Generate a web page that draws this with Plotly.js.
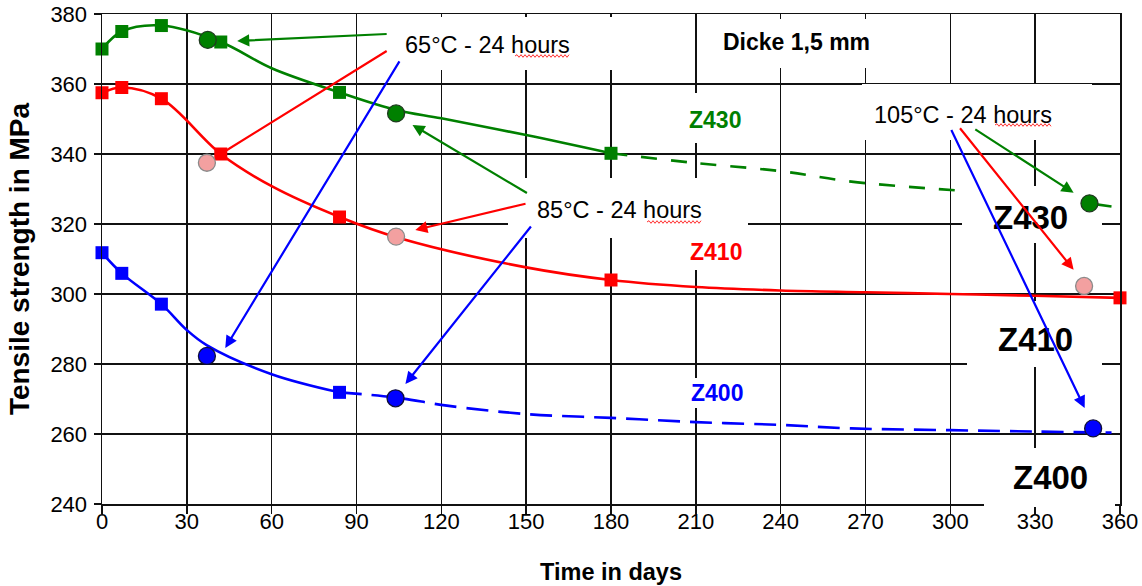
<!DOCTYPE html>
<html>
<head>
<meta charset="utf-8">
<script src="https://cdn.plot.ly/plotly-3.0.1.min.js"></script>
<style>html,body{margin:0;padding:0;background:#fff;}#chart{width:1142px;height:586px;}</style>
</head>
<body>
<div id="chart"></div>
<script>
// ---- data ----
// measured points (squares)
const z430SqDays = [0, 7, 21, 42, 84, 180];
const z430SqVals = [370, 375, 376.7, 372, 357.6, 340.2];
const z410SqDays = [0, 7, 21, 42, 84, 180, 360];
const z410SqVals = [357.5, 359, 355.8, 340, 322, 304, 298.9];
const z400SqDays = [0, 7, 21, 84];
const z400SqVals = [311.8, 305.9, 297.1, 271.9];

// heat-treated points (circles)
const z430CiDays = [37.4, 104, 349.2];
const z430CiVals = [372.6, 351.6, 325.9];
const z410CiDays = [37.1, 104, 347.3];
const z410CiVals = [337.5, 316.4, 302.3];
const z400CiDays = [37.1, 103.8, 350.5];
const z400CiVals = [282.3, 270.2, 261.6];

// fitted curves
const z430CurveDays = [0, 7, 21, 42, 60, 84, 104, 120, 150, 180];
const z430CurveVals = [370, 375, 376.7, 372, 364.5, 357.6, 352.6, 350.2, 345.4, 340.2];
const z430DashDays = [180, 210, 240, 265, 304];
const z430DashVals = [340.2, 337.4, 335.1, 332.1, 329.5];
const z430TailDays = [349.2, 357];
const z430TailVals = [325.9, 325.0];

const z410CurveDays = [0, 7, 21, 42, 60, 84, 105, 150, 180, 210, 240, 270, 300, 330, 360];
const z410CurveVals = [357.5, 359, 355.8, 340, 330.8, 322, 316, 307.6, 304, 302, 301, 300.5, 300, 299.5, 298.9];

const z400CurveDays = [0, 7, 21, 30, 37, 60, 84];
const z400CurveVals = [311.8, 305.9, 297.1, 289.7, 285.4, 277.1, 271.9];
const z400DashDays = [84, 104, 122, 150, 180, 210, 240, 265, 300, 330, 357];
const z400DashVals = [271.9, 270.4, 268.1, 265.7, 264.6, 263.4, 262.6, 261.6, 261.1, 260.7, 260.4];

// axis ticks
const xTicks = [0, 30, 60, 90, 120, 150, 180, 210, 240, 270, 300, 330, 360];
const yTicks = [240, 260, 280, 300, 320, 340, 360, 380];

// arrows: [tailDay, tailVal, headDay, headVal, color, head]
const arrows65 = [
  [101.2, 374.3, 47.8, 372.3, '#008000', 2],
  [101.2, 369.7, 42.5, 340.3, '#ff0000', 0],
  [105.5, 366.9, 43.6, 284.6, '#0000ff', 2]
];
const arrows85 = [
  [150.8, 328.6, 109.8, 348.3, '#008000', 2],
  [150.3, 325.9, 110.8, 318.3, '#ff0000', 2],
  [152.1, 319.7, 107.3, 274.3, '#0000ff', 2]
];
const arrows105 = [
  [308.3, 347.3, 343.6, 328.9, '#008000', 2],
  [303.0, 347.8, 343.6, 306.9, '#ff0000', 2],
  [300.1, 347.3, 347.5, 267.4, '#0000ff', 2]
];

// ---- layout geometry ----
const W = 1142, H = 586;
const M = {l: 102, r: 22, t: 14, b: 82};
const PW = W - M.l - M.r, PH = H - M.t - M.b;
const px2x = p => (p - M.l) / PW;
const px2y = p => (H - M.b - p) / PH;

const GREEN = '#008000', RED = '#ff0000', BLUE = '#0000ff';
const FONT = 'Liberation Sans, Arial, Helvetica, sans-serif';

function lineTrace(x, y, color, dash) {
  return {x: x, y: y, type: 'scatter', mode: 'lines', hoverinfo: 'skip',
    line: {color: color, width: 2.6, shape: 'spline', smoothing: 1, dash: dash || 'solid'},
    cliponaxis: false};
}
function squareTrace(x, y, color) {
  return {x: x, y: y, type: 'scatter', mode: 'markers', cliponaxis: false,
    marker: {symbol: 'square', size: 13, color: color, line: {width: 0}}};
}
function circleTrace(x, y, fill, edge) {
  return {x: x, y: y, type: 'scatter', mode: 'markers', cliponaxis: false,
    marker: {symbol: 'circle', size: 17, color: fill, line: {width: 1.3, color: edge}}};
}

const data = [
  lineTrace(z430CurveDays, z430CurveVals, GREEN),
  lineTrace(z430DashDays, z430DashVals, GREEN, '16px,14px'),
  lineTrace(z430TailDays, z430TailVals, GREEN),
  lineTrace(z410CurveDays, z410CurveVals, RED),
  lineTrace(z400CurveDays, z400CurveVals, BLUE),
  lineTrace(z400DashDays, z400DashVals, BLUE, '22px,10px'),
  squareTrace(z430SqDays, z430SqVals, GREEN),
  squareTrace(z410SqDays, z410SqVals, RED),
  squareTrace(z400SqDays, z400SqVals, BLUE),
  circleTrace(z430CiDays, z430CiVals, GREEN, '#1f3a1f'),
  circleTrace(z410CiDays, z410CiVals, '#f3a0a0', '#8a8a8a'),
  circleTrace(z400CiDays, z400CiVals, BLUE, '#10103a')
];

// white text boxes that hide the grid (pixel boxes x0,y0,x1,y1)
const boxes = [
  [393, 17, 690, 70],
  [715, 19, 870, 68],
  [862, 84, 1092, 140],
  [680, 93, 755, 143],
  [508, 178, 748, 238],
  [682, 238, 752, 270],
  [682, 378, 752, 408],
  [962, 186, 1078, 243],
  [1078, 214, 1102, 243],
  [967, 301, 1102, 367],
  [984, 448, 1115, 507]
];
const shapes = boxes.map(b => ({type: 'rect', xref: 'paper', yref: 'paper',
  x0: px2x(b[0]), x1: px2x(b[2]), y0: px2y(b[3]), y1: px2y(b[1]),
  fillcolor: '#ffffff', line: {width: 0}, layer: 'above'}));

// red wavy spell-check underline under "hours" (pixel spans)
const squiggles = [[515, 570, 56], [647, 702, 222], [995, 1052, 125]];
squiggles.forEach(s => {
  let d = 'M' + px2x(s[0]) + ',' + px2y(s[2]);
  let up = true;
  for (let p = s[0] + 2; p <= s[1]; p += 2) {
    d += ' L' + px2x(p) + ',' + px2y(s[2] + (up ? -1.3 : 1.3));
    up = !up;
  }
  shapes.push({type: 'path', xref: 'paper', yref: 'paper', path: d,
    line: {color: '#ff3030', width: 1}, layer: 'above'});
});

function txt(x, y, text, size, color, bold) {
  return {x: x, y: y, xref: 'x', yref: 'y', text: bold ? '<b>' + text + '</b>' : text,
    showarrow: false, xanchor: 'center', yanchor: 'middle',
    font: {family: FONT, size: size, color: color}};
}
const annotations = [
  txt(136.5, 371.1, '65°C - 24 hours', 23.5, '#000'),
  txt(183, 324, '85°C - 24 hours', 23.5, '#000'),
  txt(304.6, 351.1, '105°C - 24 hours', 23.5, '#000'),
  txt(245.6, 372, 'Dicke 1,5 mm', 23, '#000', true),
  txt(216.9, 349.7, 'Z430', 23, GREEN, true),
  txt(217.3, 312, 'Z410', 23, RED, true),
  txt(217.6, 271.7, 'Z400', 23, BLUE, true),
  txt(328.2, 322, 'Z430', 33, '#000', true),
  txt(330, 286.9, 'Z410', 33, '#000', true),
  txt(335.4, 247.7, 'Z400', 33, '#000', true)
];
[].concat(arrows65, arrows85, arrows105).forEach(a => {
  annotations.push({x: a[2], y: a[3], ax: a[0], ay: a[1], xref: 'x', yref: 'y',
    axref: 'x', ayref: 'y', text: '', showarrow: true, arrowhead: a[5],
    arrowsize: 1.1, arrowwidth: 2.2, arrowcolor: a[4], standoff: 0, startstandoff: 0});
});

const layout = {
  width: W, height: H, margin: M, paper_bgcolor: '#fff', plot_bgcolor: '#fff',
  showlegend: false,
  font: {family: FONT, color: '#000'},
  xaxis: {range: [0, 360], tickvals: xTicks, ticktext: xTicks.map(String),
    showgrid: true, gridcolor: '#111', gridwidth: 1.4, zeroline: false,
    showline: true, linecolor: '#111', linewidth: 1.5, mirror: true,
    ticks: 'outside', ticklen: 8, tickwidth: 1.4, tickcolor: '#111',
    ticklabelstandoff: -11,
    tickfont: {family: FONT, size: 22, color: '#000'},
    title: {text: '<b>Time in days</b>', font: {family: FONT, size: 23.5, color: '#000'}, standoff: 30},
    fixedrange: true},
  yaxis: {range: [240, 380], tickvals: yTicks, ticktext: yTicks.map(String),
    showgrid: true, gridcolor: '#111', gridwidth: 1.4, zeroline: false,
    showline: true, linecolor: '#111', linewidth: 1.5, mirror: true,
    ticks: 'outside', ticklen: 7, tickwidth: 1.4, tickcolor: '#111',
    ticklabelstandoff: 2,
    tickfont: {family: FONT, size: 22, color: '#000'},
    title: {text: '<b>Tensile strength in MPa</b>', font: {family: FONT, size: 28, color: '#000'}, standoff: 12},
    fixedrange: true},
  shapes: shapes,
  annotations: annotations
};

Plotly.newPlot('chart', data, layout, {staticPlot: true, displayModeBar: false});
</script>
</body>
</html>
